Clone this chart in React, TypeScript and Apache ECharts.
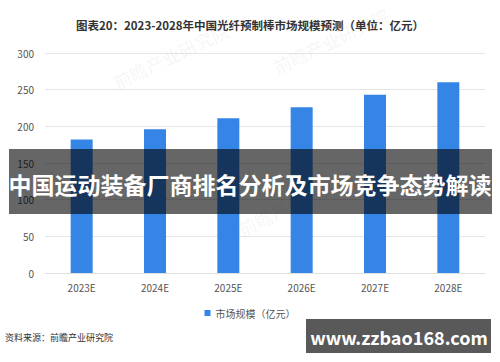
import React, { useEffect, useRef } from "react";
import * as echarts from "echarts";

const categories = ["2023E", "2024E", "2025E", "2026E", "2027E", "2028E"];
const marketSize = [182, 196, 211, 226, 243, 260];
const seriesName = "市场规模（亿元）";
const titleText = "图表20：2023-2028年中国光纤预制棒市场规模预测（单位：亿元）";
const sourceText = "资料来源：前瞻产业研究院";
const bannerText = "中国运动装备厂商排名分析及市场竞争态势解读";
const siteText = "www.zzbao168.com";
const watermarkText = "前瞻产业研究院";

export default function App() {
  const ref = useRef<HTMLDivElement>(null);
  useEffect(() => {
    if (!ref.current) return;
    const chart = echarts.init(ref.current, undefined, { renderer: "svg" });
    const font = '"Noto Sans CJK SC", "Noto Sans", sans-serif';
    const wm = (x: number, y: number) => ({
      type: "text",
      x,
      y,
      rotation: Math.PI / 7,
      z: 1,
      silent: true,
      style: {
        text: watermarkText,
        fill: "rgba(0,0,0,0.035)",
        font: `bold 18px ${font}`,
      },
    });
    chart.setOption({
      animation: false,
      backgroundColor: "#ffffff",
      textStyle: { fontFamily: font },
      title: {
        text: titleText,
        left: "center",
        top: 14,
        textStyle: { fontSize: 11.5, fontWeight: "bold", color: "#333" },
      },
      grid: { left: 45, right: 15, top: 53, bottom: 89 },
      xAxis: {
        type: "category",
        data: categories,
        axisLine: { show: true, lineStyle: { color: "#e0e0e0" } },
        axisTick: { show: false },
        axisLabel: { color: "#555", fontSize: 10, margin: 9 },
      },
      yAxis: {
        type: "value",
        min: 0,
        max: 300,
        interval: 50,
        axisLine: { show: false },
        axisTick: { show: false },
        axisLabel: { color: "#555", fontSize: 10, margin: 11 },
        splitLine: { lineStyle: { color: "#e6e6e6" } },
      },
      legend: {
        data: [seriesName],
        top: 303,
        left: "center",
        icon: "rect",
        itemWidth: 6,
        itemHeight: 6,
        itemGap: 4,
        textStyle: { color: "#555", fontSize: 10 },
      },
      series: [
        {
          name: seriesName,
          type: "bar",
          data: marketSize,
          barWidth: 22,
          itemStyle: { color: "#3585e6" },
        },
      ],
      graphic: [
        wm(110, 75),
        wm(270, 60),
        wm(235, 222),
        {
          type: "text",
          left: 5,
          top: 333,
          z: 10,
          style: { text: sourceText, fill: "#333", font: `9px ${font}` },
        },
        {
          type: "rect",
          z: 100,
          shape: { x: 9, y: 149, width: 483, height: 65 },
          style: { fill: "rgba(0,0,0,0.6)" },
        },
        {
          type: "text",
          z: 101,
          x: 250,
          y: 184,
          style: {
            text: bannerText,
            fill: "#ffffff",
            font: `bold 23px ${font}`,
            textAlign: "center",
            textVerticalAlign: "middle",
          },
        },
        {
          type: "rect",
          z: 100,
          shape: { x: 306, y: 319, width: 185, height: 34 },
          style: { fill: "rgba(80,80,80,0.95)" },
        },
        {
          type: "text",
          z: 101,
          x: 399,
          y: 337,
          style: {
            text: siteText,
            fill: "#ffffff",
            font: `bold 18px ${font}`,
            textAlign: "center",
            textVerticalAlign: "middle",
          },
        },
      ],
    });
    return () => chart.dispose();
  }, []);
  return (
    <div
      ref={ref}
      style={{ position: "fixed", left: 0, top: 0, width: 500, height: 362 }}
    />
  );
}
